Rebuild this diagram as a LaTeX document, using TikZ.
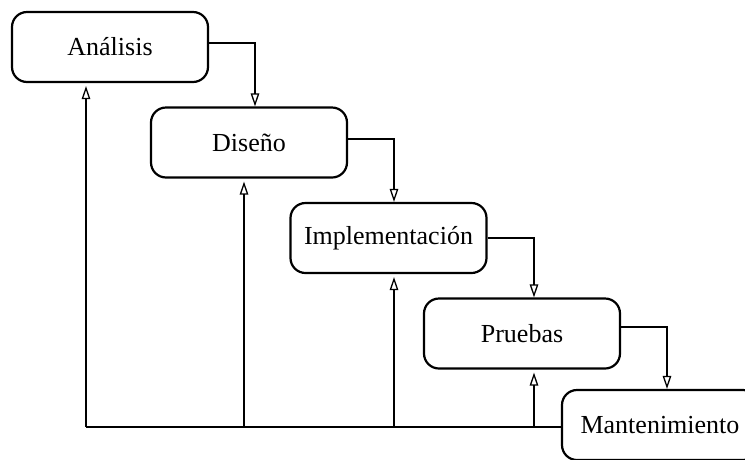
\documentclass[tikz,border=0pt]{standalone}
\usepackage{fontspec}
\setmainfont{Liberation Serif}
\usetikzlibrary{arrows.meta,calc}
\tikzset{
  phase/.style={draw, line width=2.2pt, rounded corners=15pt, minimum width=196pt,
    minimum height=70pt, inner sep=0pt, font=\fontsize{26}{30}\selectfont, fill=white},
  flow/.style={line width=1.4pt, -{Triangle[open, length=13pt, width=8.5pt, line width=1.3pt]}},
  back/.style={flow, shorten >=3pt},
}
\begin{document}
\begin{tikzpicture}[x=1pt,y=-1pt]
  \clip (0,0) rectangle (745,459);
  \fill[white] (0,0) rectangle (745,459);
  \node[phase] (an) at (110,47)    {Análisis};
  \node[phase] (di) at (249,142.5) {Diseño};
  \node[phase] (im) at (388.5,238) {Implementación};
  \node[phase] (pr) at (522,333.5) {Pruebas};
  \node[phase] (ma) at (660,425)   {Mantenimiento};

  % forward cascade
  \draw[flow] (an.east |- 0,43) -| (di.north -| 255,0);
  \draw[flow] (di.east |- 0,139) -| (im.north -| 394,0);
  \draw[flow] (im.east |- 0,238) -| (pr.north -| 534,0);
  \draw[flow] (pr.east |- 0,327) -| (ma.north -| 667,0);

  % feedback to earlier phases
  \coordinate (b0) at (86,427);
  \draw[line width=1.4pt] (ma.west |- b0) -- (b0);
  \draw[back] (b0) -- (an.south -| b0);
  \draw[back] (244,427) -- (di.south -| 244,0);
  \draw[back] (394,427) -- (im.south -| 394,0);
  \draw[back] (534,427) -- (pr.south -| 534,0);
\end{tikzpicture}
\end{document}
